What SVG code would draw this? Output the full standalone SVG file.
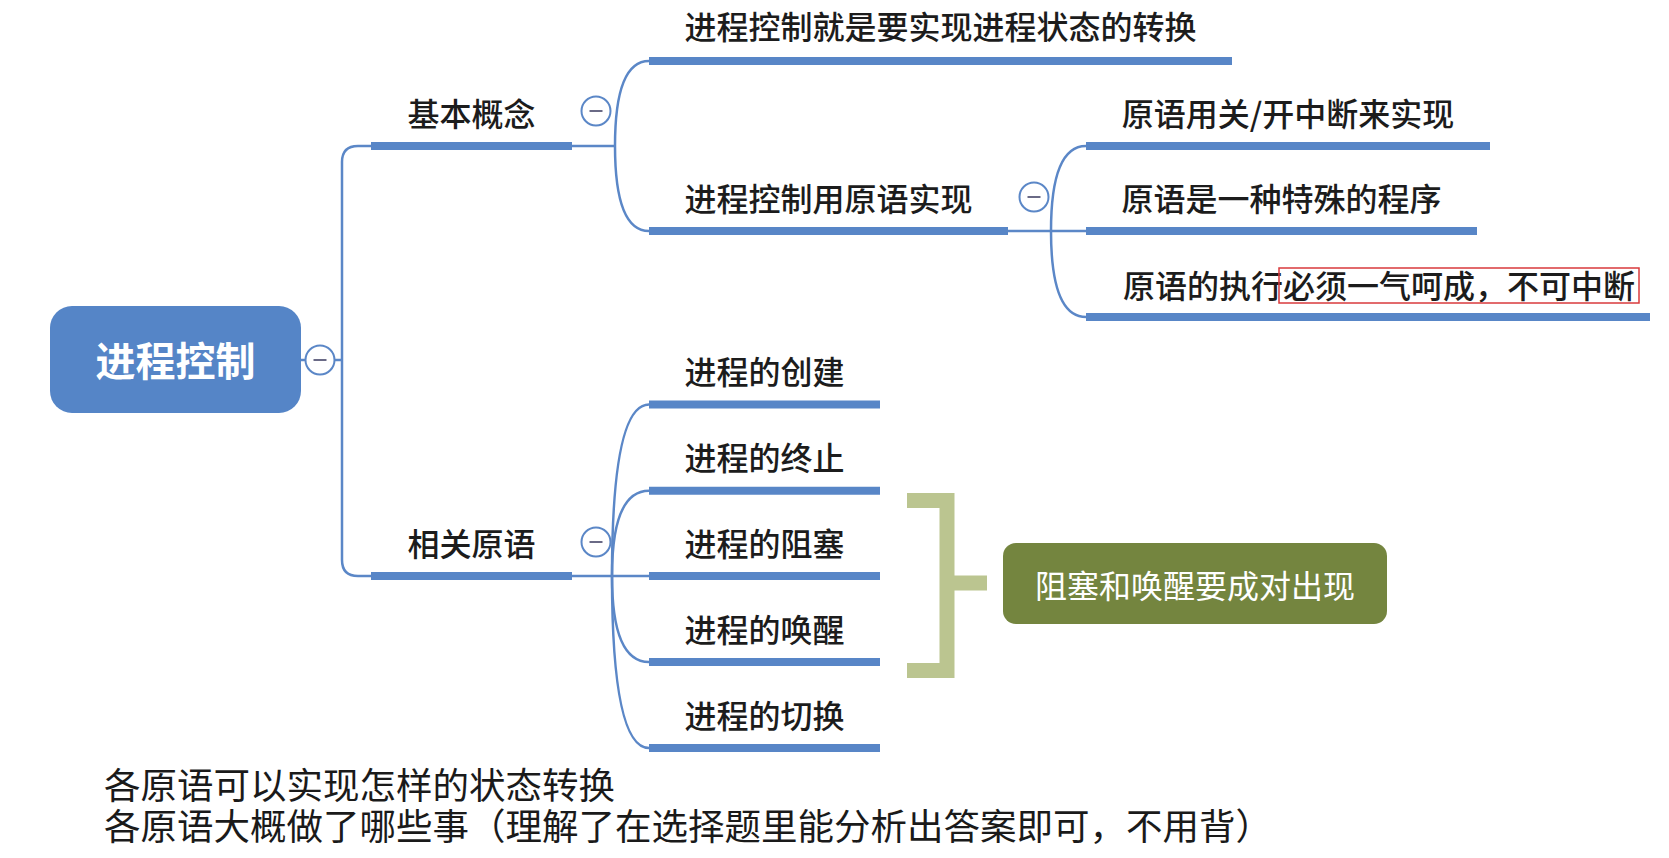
<svg xmlns="http://www.w3.org/2000/svg" width="1669" height="858" viewBox="0 0 1669 858">
<style>
.t{font-family:"Noto Sans CJK SC","Liberation Sans",sans-serif;font-size:32px;font-weight:500;fill:#1c1c1c;text-anchor:middle;dominant-baseline:central}
.bar{stroke:#5886C7;stroke-width:8;fill:none}
.ln{stroke:#5B87C7;stroke-width:2.5;fill:none}
.cc{fill:#ffffff;stroke:#5B87C7;stroke-width:2}
.mn{stroke:#6a6a86;stroke-width:2}
.note{font-family:"Noto Sans CJK SC","Liberation Sans",sans-serif;font-size:36.5px;fill:#1a1a1a}
</style>
<rect width="1669" height="858" fill="#ffffff"/>
<g id="connectors">
<path class="ln" d="M301,360 H342"/>
<path class="ln" d="M371,146 H358 Q342,146 342,162 V560 Q342,576 358,576 H371"/>
<path class="ln" d="M572,146 H615"/>
<path class="ln" d="M615,146 Q615,61 649,61"/>
<path class="ln" d="M615,146 Q615,231 649,231"/>
<path class="ln" d="M1008,231 H1086"/>
<path class="ln" d="M1051,231 Q1051,146 1086,146"/>
<path class="ln" d="M1051,231 Q1051,317 1086,317"/>
<path class="ln" d="M572,576 H649"/>
<path class="ln" d="M612,576 Q612,404.5 649,404.5"/>
<path class="ln" d="M612,576 Q612,490.7 649,490.7"/>
<path class="ln" d="M612,576 Q612,662 649,662"/>
<path class="ln" d="M612,576 Q612,748 649,748"/>
</g>
<g id="root">
<rect x="50" y="306" width="251" height="107" rx="22" fill="#5585C7"/>
<text x="175.5" y="359" class="t" style="font-size:40px;font-weight:700;fill:#ffffff">进程控制</text>
<circle class="cc" cx="320" cy="360" r="14.5"/><path class="mn" d="M313.5,360 H326.5"/>
</g>
<g id="n-basic">
<path class="bar" d="M371,146 H572"/>
<text x="471.5" y="112" class="t">基本概念</text>
<circle class="cc" cx="596" cy="111" r="14.5"/><path class="mn" d="M589.5,111 H602.5"/>
</g>
<g id="n-basic-1">
<path class="bar" d="M649,61 H1232"/>
<text x="940.5" y="25" class="t">进程控制就是要实现进程状态的转换</text>
</g>
<g id="n-basic-2">
<path class="bar" d="M649,231 H1008"/>
<text x="828.5" y="197" class="t">进程控制用原语实现</text>
<circle class="cc" cx="1034" cy="197" r="14.5"/><path class="mn" d="M1027.5,197 H1040.5"/>
</g>
<g id="n-prim-1">
<path class="bar" d="M1086,146 H1490"/>
<text x="1288" y="112" class="t">原语用关/开中断来实现</text>
</g>
<g id="n-prim-2">
<path class="bar" d="M1086,231 H1477"/>
<text x="1281.5" y="197" class="t">原语是一种特殊的程序</text>
</g>
<g id="n-prim-3">
<path class="bar" d="M1086,317 H1650"/>
<text x="1379" y="284" class="t">原语的执行必须一气呵成，不可中断</text>
<rect x="1279" y="268" width="360" height="35" fill="none" stroke="#D93A3C" stroke-width="1.5"/>
</g>
<g id="n-rel">
<path class="bar" d="M371,576 H572"/>
<text x="471.5" y="542" class="t">相关原语</text>
<circle class="cc" cx="596" cy="542" r="14.5"/><path class="mn" d="M589.5,542 H602.5"/>
</g>
<g id="n-rel-1">
<path class="bar" d="M649,404.5 H880"/>
<text x="764.5" y="370" class="t">进程的创建</text>
</g>
<g id="n-rel-2">
<path class="bar" d="M649,490.7 H880"/>
<text x="764.5" y="456" class="t">进程的终止</text>
</g>
<g id="n-rel-3">
<path class="bar" d="M649,576 H880"/>
<text x="764.5" y="542" class="t">进程的阻塞</text>
</g>
<g id="n-rel-4">
<path class="bar" d="M649,662 H880"/>
<text x="764.5" y="628" class="t">进程的唤醒</text>
</g>
<g id="n-rel-5">
<path class="bar" d="M649,748 H880"/>
<text x="764.5" y="714" class="t">进程的切换</text>
</g>
<g id="bracket">
<path d="M907,500.5 H947 V670.5 H907 M947,583 H987" fill="none" stroke="#BBC590" stroke-width="15"/>
</g>
<g id="summary">
<rect x="1003" y="543" width="384" height="81" rx="13" fill="#74853F"/>
<text x="1195" y="584" class="t" style="fill:#ffffff;font-weight:400">阻塞和唤醒要成对出现</text>
</g>
<g id="notes">
<text x="104" y="799" class="note">各原语可以实现怎样的状态转换</text>
<text x="104" y="840" class="note">各原语大概做了哪些事（理解了在选择题里能分析出答案即可，不用背）</text>
</g>
</svg>
